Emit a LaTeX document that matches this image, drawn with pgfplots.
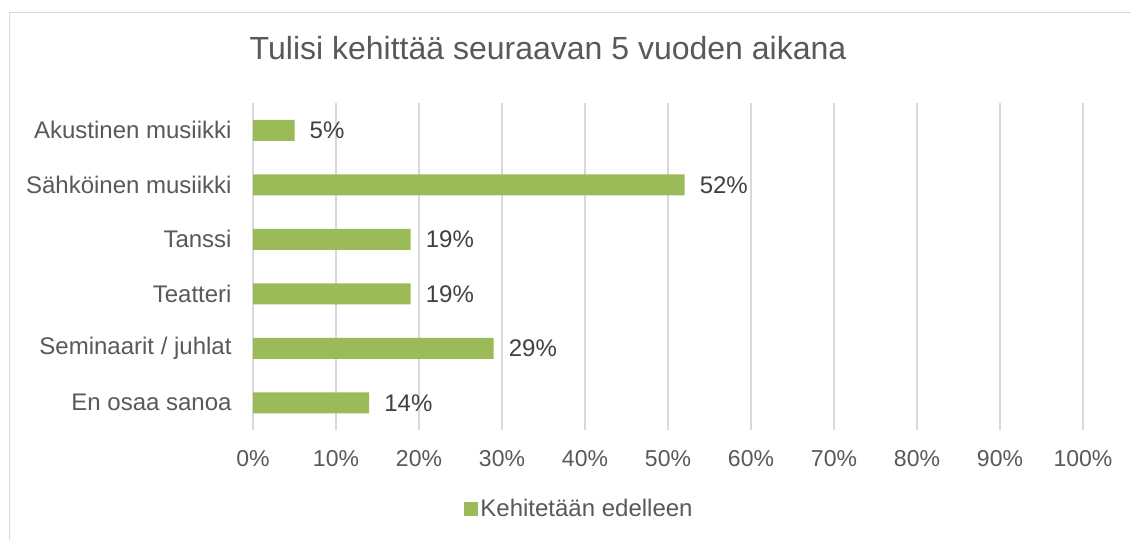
\documentclass[border=0pt]{standalone}
\usepackage{fontspec}
\setmainfont{Liberation Sans}
\usepackage{pgfplots}
\pgfplotsset{compat=1.18}
\definecolor{bargreen}{HTML}{9BBB59}
\definecolor{txtgray}{HTML}{595959}
\definecolor{lblgray}{HTML}{404040}
\definecolor{gridgray}{HTML}{D9D9D9}

\begin{document}
\begin{tikzpicture}[x=1pt,y=1pt]
\path[use as bounding box] (0,0) rectangle (1131,539);
\fill[white] (0,0) rectangle (1131,539);
% chart frame (only left and top edges visible)
\draw[gridgray, line width=1.3pt] (9.5,-5) -- (9.5,526.5) -- (1140,526.5);
\node[text=txtgray, font=\fontsize{32}{37}\selectfont] at (548,491) {Tulisi kehittää seuraavan 5 vuoden aikana};

\begin{axis}[
  at={(253pt,109pt)}, anchor=south west,
  width=830pt, height=327pt, scale only axis,
  xbar, bar width=21pt,
  xmin=0, xmax=100, ymin=-0.5, ymax=5.5, y dir=reverse,
  axis line style={draw=none},
  tick style={draw=none},
  xmajorgrids, major grid style={gridgray, line width=1.2pt},
  xtick={0,10,...,100},
  xticklabels={0\%,10\%,20\%,30\%,40\%,50\%,60\%,70\%,80\%,90\%,100\%},
  xticklabel style={font=\fontsize{23}{27}\selectfont, text=txtgray, inner sep=0pt, yshift=-20pt},
  ytick={0,1,2,3,4,5},
  yticklabels={Akustinen musiikki, Sähköinen musiikki, Tanssi, Teatteri, Seminaarit / juhlat, En osaa sanoa},
  yticklabel style={font=\fontsize{24}{28}\selectfont, text=txtgray, inner sep=0pt, xshift=-17pt},
  nodes near coords={\pgfmathprintnumber[assume math mode=true]{\pgfplotspointmeta}\%},
  nodes near coords style={font=\fontsize{24}{28}\selectfont, text=lblgray, inner sep=0pt, anchor=west, xshift=15pt},
  legend style={at={(0.3934,-0.2416)}, anchor=center, draw=none, fill=none,
    font=\fontsize{24}{28}\selectfont, text=txtgray,
    nodes={inner sep=2pt}},
  legend image code/.code={\fill[bargreen] (0pt,-7pt) rectangle (14pt,7pt);},
]
\addplot[fill=bargreen, draw=none] coordinates {
  (5,0) (52,1) (19,2) (19,3) (29,4) (14,5)
};
\addlegendentry{Kehitetään edelleen}
\end{axis}
\end{tikzpicture}
\end{document}
